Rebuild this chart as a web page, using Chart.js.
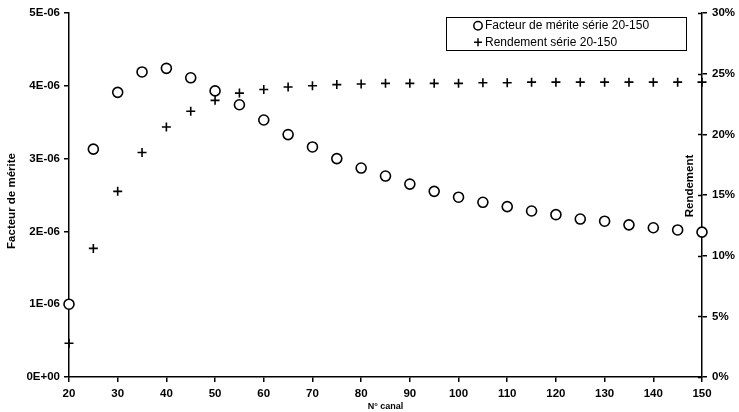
<!DOCTYPE html>
<html>
<head>
<meta charset="utf-8">
<script src="https://cdn.jsdelivr.net/npm/chart.js@4/dist/chart.umd.min.js"></script>
<style>
html,body{margin:0;padding:0;background:#fff;}
#wrap{width:739px;height:412px;}
</style>
</head>
<body>
<div id="wrap"><canvas id="c" width="739" height="412"></canvas></div>
<script>
// ---- data ----
const canal = [20,25,30,35,40,45,50,55,60,65,70,75,80,85,90,95,100,105,110,115,120,125,130,135,140,145,150];
const facteurMerite = [1.00e-6,3.13e-6,3.91e-6,4.19e-6,4.24e-6,4.11e-6,3.93e-6,3.74e-6,3.53e-6,3.33e-6,3.16e-6,3.00e-6,2.87e-6,2.76e-6,2.65e-6,2.55e-6,2.47e-6,2.40e-6,2.34e-6,2.28e-6,2.23e-6,2.17e-6,2.14e-6,2.09e-6,2.05e-6,2.02e-6,1.99e-6];
const rendement = [2.78,10.6,15.3,18.5,20.6,21.9,22.8,23.4,23.7,23.9,24.0,24.1,24.15,24.2,24.2,24.2,24.2,24.25,24.25,24.3,24.3,24.3,24.3,24.3,24.3,24.3,24.3];
const leftTickLabels = ['0E+00','1E-06','2E-06','3E-06','4E-06','5E-06'];
const rightTickLabels = ['0%','5%','10%','15%','20%','25%','30%'];
const seriesNames = ['Facteur de mérite série 20-150','Rendement série 20-150'];
const xTitle = 'N° canal';
const leftTitle = 'Facteur de mérite';
const rightTitle = 'Rendement';

const FONT = "'Liberation Sans', Arial, sans-serif";
const tickFont = {family: FONT, size: 11.5, weight: 'bold'};

const ptsFM = canal.map((x,i)=>({x:x,y:facteurMerite[i]}));
const ptsR = canal.map((x,i)=>({x:x,y:rendement[i]}));

function vText(ctx, txt, x, y) {
  ctx.save();
  ctx.translate(x, y);
  ctx.rotate(-Math.PI/2);
  ctx.textAlign = 'center';
  ctx.textBaseline = 'middle';
  ctx.fillText(txt, 0, 0);
  ctx.restore();
}

const extras = {
  id: 'extras',
  afterDraw(chart) {
    const ctx = chart.ctx;
    const yR = chart.scales.yR;
    const ca = chart.chartArea;
    ctx.save();
    // inner part of right-axis ticks
    ctx.strokeStyle = '#000';
    ctx.lineWidth = 1.5;
    yR.ticks.forEach(t => {
      const y = Math.round(yR.getPixelForValue(t.value)) + 0.5;
      ctx.beginPath();
      ctx.moveTo(ca.right - 4, y);
      ctx.lineTo(ca.right, y);
      ctx.stroke();
    });
    // axis titles
    ctx.fillStyle = '#000';
    ctx.font = "bold 11.5px " + FONT;
    vText(ctx, leftTitle, 12, 201);
    vText(ctx, rightTitle, 690, 186);
    ctx.restore();

    // legend
    ctx.save();
    ctx.fillStyle = '#fff';
    ctx.fillRect(446.5, 17.5, 240, 33);
    ctx.strokeStyle = '#000';
    ctx.lineWidth = 1;
    ctx.strokeRect(446.5, 17.5, 240, 33);
    ctx.lineWidth = 1.5;
    ctx.beginPath();
    ctx.arc(478, 25.7, 4.2, 0, Math.PI*2);
    ctx.stroke();
    ctx.beginPath();
    ctx.moveTo(474, 42.3); ctx.lineTo(482, 42.3);
    ctx.moveTo(478, 38.3); ctx.lineTo(478, 46.3);
    ctx.stroke();
    ctx.fillStyle = '#000';
    ctx.font = "12px " + FONT;
    ctx.textAlign = 'left';
    ctx.textBaseline = 'middle';
    ctx.fillText(seriesNames[0], 485, 26);
    ctx.fillText(seriesNames[1], 485, 42.5);
    ctx.restore();
  }
};

new Chart(document.getElementById('c'), {
  type: 'scatter',
  data: {
    datasets: [
      {label: seriesNames[0], data: ptsFM, yAxisID: 'yL', pointStyle: 'circle', pointRadius: 5, pointHoverRadius: 5,
       borderColor: '#000', backgroundColor: '#fff', pointBorderWidth: 1.6, showLine: false},
      {label: seriesNames[1], data: ptsR, yAxisID: 'yR', pointStyle: 'cross', pointRadius: 4.5, pointHoverRadius: 4.5,
       borderColor: '#000', backgroundColor: '#000', pointBorderWidth: 1.6, showLine: false}
    ]
  },
  options: {
    responsive: false,
    animation: false,
    clip: false,
    layout: {padding: {top: 13, left: 0, right: 0, bottom: 0}},
    plugins: {legend: {display: false}, tooltip: {enabled: false}},
    scales: {
      x: {
        type: 'linear', position: 'bottom', min: 20, max: 150,
        afterFit(s){ s.height = 35; },
        ticks: {stepSize: 10, color: '#000', font: tickFont, padding: 5, maxRotation: 0},
        grid: {drawOnChartArea: false, tickLength: 5, color: '#000', lineWidth: 1.5},
        border: {display: true, color: '#000', width: 1.5},
        title: {display: true, text: xTitle, color: '#000', font: {family: FONT, size: 9, weight: 'bold'}, padding: {top: 4.5, bottom: 0}}
      },
      yL: {
        type: 'linear', position: 'left', min: 0, max: 5e-6,
        afterFit(s){ s.width = 69; },
        afterBuildTicks(s){ s.ticks = leftTickLabels.map((l,i)=>({value: i*1e-6})); },
        ticks: {color: '#000', font: tickFont, padding: 4, callback: (v,i)=>leftTickLabels[i]},
        grid: {drawOnChartArea: false, tickLength: 5, color: '#000', lineWidth: 1.5},
        border: {display: true, color: '#000', width: 1.5}
      },
      yR: {
        type: 'linear', position: 'right', min: 0, max: 30,
        afterFit(s){ s.width = 37; },
        afterBuildTicks(s){ s.ticks = rightTickLabels.map((l,i)=>({value: i*5})); },
        ticks: {color: '#000', font: tickFont, padding: 5, callback: (v,i)=>rightTickLabels[i]},
        grid: {drawOnChartArea: false, tickLength: 5, color: '#000', lineWidth: 1.5},
        border: {display: true, color: '#000', width: 1.5}
      }
    }
  },
  plugins: [extras]
});
</script>
</body>
</html>
